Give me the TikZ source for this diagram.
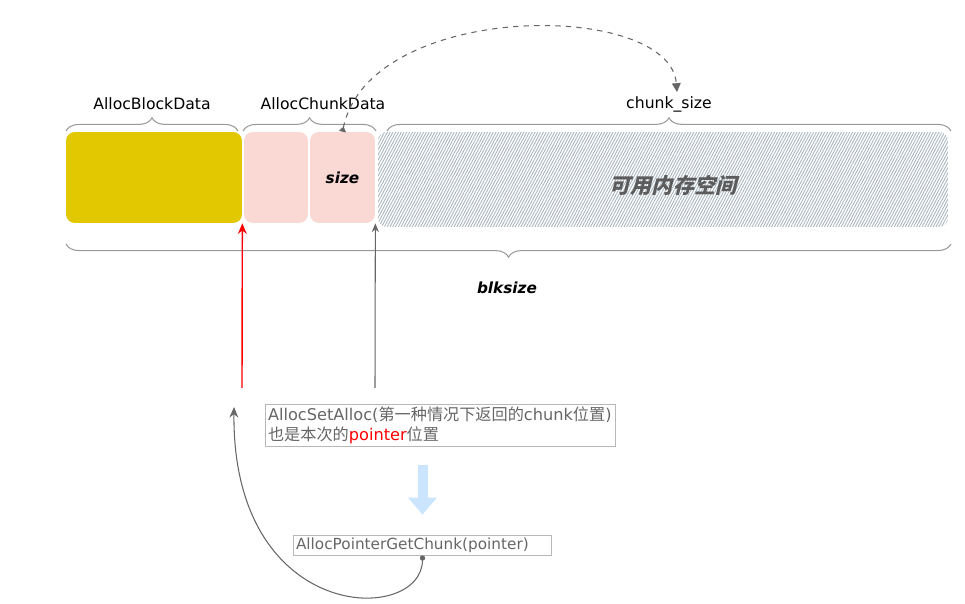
\documentclass[tikz,border=0pt]{standalone}
\usepackage{fontspec}
\setmainfont{DejaVu Sans}
\newfontfamily\cjk{Noto Sans CJK SC}
\newfontfamily\cjkbi{Noto Sans CJK SC}[FakeSlant=0.25]
\usetikzlibrary{arrows.meta,decorations.pathreplacing,patterns.meta}
\definecolor{blockyellow}{HTML}{E1C800}
\definecolor{chunkpink}{HTML}{FAD9D5}
\definecolor{hatchgray}{HTML}{A8B4BE}
\definecolor{hatchbg}{HTML}{CAD3DA}
\definecolor{textgray}{HTML}{666666}
\definecolor{linegray}{HTML}{999999}
\definecolor{arrowblue}{HTML}{CCE5FF}
\tikzset{
  part/.style={rounded corners=5pt, minimum height=1.82cm, inner sep=0pt},
  brace/.style={decorate, decoration={brace, amplitude=7.5pt}, linegray, line width=0.6pt},
  label/.style={font=\fontsize{8.9}{10}\selectfont},
  callbox/.style={draw=linegray!70, text=textgray, font=\fontsize{9.2}{11}\selectfont, inner sep=1.5pt, align=left},
  linkarrow/.style={-{Stealth[length=5pt,width=4pt]}, textgray, line width=0.6pt}
}
\begin{document}
\begin{tikzpicture}[x=0.02cm,y=-0.02cm]
		\useasboundingbox (0,0) rectangle (965,604);
		
		% memory block
		\node[part, fill=blockyellow, minimum width=3.52cm] (block) at (154,177.5) {};
		\node[part, fill=chunkpink, minimum width=1.28cm] (chunk) at (276,177.5) {};
		\node[part, fill=chunkpink, minimum width=1.3cm, font=\fontsize{8.7}{10}\selectfont\bfseries\itshape] (size) at (342.5,177.5) {size};
		\node[part, minimum width=11.4cm, minimum height=1.9cm, fill=hatchbg,
		      pattern={Lines[angle=62,distance=1.4pt,line width=0.5pt]}, pattern color=hatchgray] (free) at (663,179.5) {};
		\node[font=\fontsize{12}{14}\selectfont\bfseries\cjkbi, text=textgray!90!black] (freetext) at (673,185) {可用内存空间};
		
		% braces
		\draw[brace] (66,131) -- (238,131);
		\draw[brace] (243,131) -- (376,131);
		\draw[brace] (387,131) -- (951,131);
		\draw[brace] (951,244) -- (66,244);
		\node[label] (blocklabel) at (152,104) {AllocBlockData};
		\node[label] (chunklabel) at (323,104) {AllocChunkData};
		\node[label] (cslabel) at (669,104) {chunk\_size};
		\node[label, font=\fontsize{8.7}{10}\selectfont\bfseries\itshape] (blklabel) at (507,288) {blksize};
		
		% chunk size link
		\coordinate (cstop) at (677,92);
		\draw[{Triangle[reversed,length=3pt,width=4pt]}-{Triangle[length=5pt,width=5pt]}, textgray, dashed, line width=0.6pt]
		      (size.north) .. controls (370,0) and (670,0) .. (cstop);
		
		% pointers
		\coordinate (redstart) at (242,388);
		\coordinate (graystart) at (375,388);
		\draw[-{Stealth[length=6pt,width=5pt]}, red, line width=0.8pt] (redstart) -- (block.south east);
		\draw[linkarrow] (graystart) -- (size.south east);
		
		\node[callbox, minimum width=6.98cm, minimum height=0.74cm, text width=6.9cm] (set) at (440.5,425.5)
		      {AllocSetAlloc(\cjk 第一种情况下返回的\normalfont chunk\cjk 位置\normalfont)\\
		       \cjk 也是本次的\normalfont\textcolor{red}{pointer}\cjk 位置};
		\node[callbox, minimum width=5.14cm, minimum height=0.4cm, text width=5.06cm, font=\fontsize{8.7}{10}\selectfont] (get) at (422.5,545) {AllocPointerGetChunk(pointer)};
		
		\draw[arrowblue, line width=0.2cm, -{Triangle[width=0.56cm,length=0.34cm]}, shorten <=0.36cm, shorten >=0.4cm]
		      (get.north |- set.south) -- (get.north);
		
		\coordinate (backend) at (234,407);
		\draw[{Circle[length=3pt]}-{Stealth[length=6pt,width=5pt]}, textgray, line width=0.6pt]
		      (get.south) .. controls (422,625) and (232,625) .. (backend);

	\end{tikzpicture}
\end{document}
